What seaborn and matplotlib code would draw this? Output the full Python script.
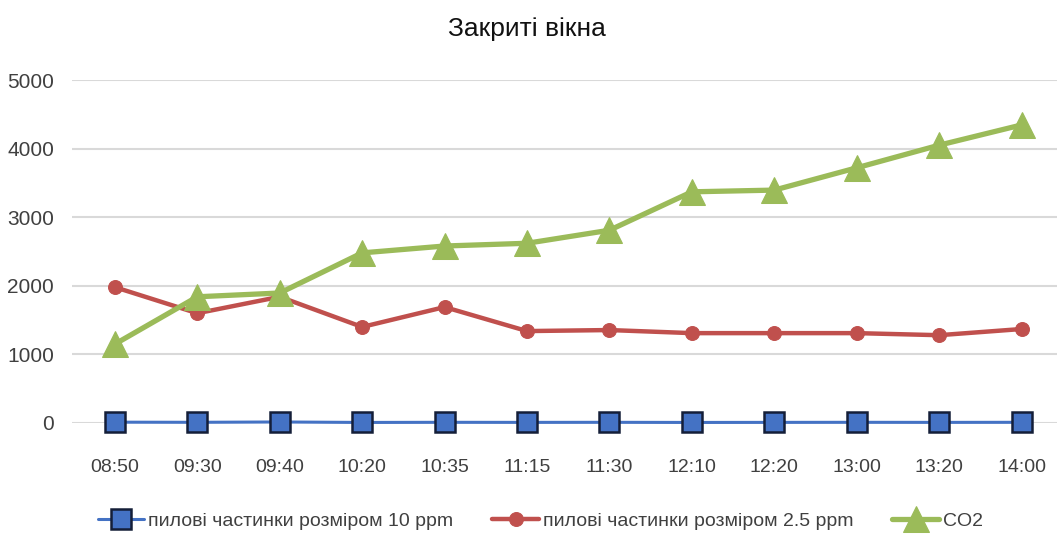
import matplotlib
matplotlib.use("Agg")
import matplotlib.pyplot as plt
import seaborn as sns
import pandas as pd

# Measurement times and readings
times = ["08:50", "09:30", "09:40", "10:20", "10:35", "11:15",
         "11:30", "12:10", "12:20", "13:00", "13:20", "14:00"]
pm10 = [12, 10, 15, 8, 10, 9, 10, 8, 9, 10, 9, 10]
pm25 = [1980, 1600, 1840, 1400, 1690, 1340, 1355, 1310, 1310, 1310, 1280, 1370]
co2 = [1150, 1840, 1895, 2480, 2580, 2620, 2810, 3370, 3395, 3720, 4050, 4345]

labels = ["пилові частинки розміром 10 ppm",
          "пилові частинки розміром 2.5 ppm",
          "CO2"]
title = "Закриті вікна"

sns.set_theme(style="white")
plt.rcParams["font.family"] = ["Liberation Sans", "DejaVu Sans"]

df = pd.DataFrame({"time": times, "pm10": pm10, "pm25": pm25, "co2": co2})
df["pos"] = range(len(times))

fig = plt.figure(figsize=(10.57, 5.34), dpi=100)
ax = fig.add_axes([72 / 1057, 1 - 423 / 534, 1 - 72 / 1057, (423 - 80) / 534])

sns.lineplot(data=df, x="pos", y="pm10", ax=ax, color="#4472C4", lw=2.2,
             marker="s", markersize=15, markerfacecolor="#4472C4",
             markeredgecolor="#141E38", markeredgewidth=1.8,
             label=labels[0], clip_on=False, zorder=4)
sns.lineplot(data=df, x="pos", y="pm25", ax=ax, color="#C0504D", lw=3.2,
             marker="o", markersize=10, markerfacecolor="#C0504D",
             markeredgecolor="#C0504D", label=labels[1], zorder=3)
sns.lineplot(data=df, x="pos", y="co2", ax=ax, color="#9BBB59", lw=3.8,
             marker="^", markersize=19, markerfacecolor="#9BBB59",
             markeredgecolor="#9BBB59", label=labels[2], zorder=3)

ax.set_xlim(-0.52, 11.43)
ax.set_ylim(0, 5000)
ax.set_yticks([0, 1000, 2000, 3000, 4000, 5000])
ax.set_xticks(df["pos"])
ax.set_xticklabels(times)
ax.yaxis.grid(True, color="#D9D9D9", lw=1.5)
ax.set_axisbelow(True)
for s in ax.spines.values():
    s.set_visible(False)
ax.tick_params(axis="both", length=0, colors="#404040")
ax.tick_params(axis="x", labelsize=14, pad=26)
ax.tick_params(axis="y", labelsize=15, pad=13)
ax.set_xlabel("")
ax.set_ylabel("")

fig.text(527 / 1057, 1 - 29 / 534, title, ha="center", va="center",
         fontsize=19, color="#111111")

ax.legend(loc="center", bbox_to_anchor=(0.5 - 26 / 1057, -0.285), ncol=3,
          frameon=False, fontsize=14, handlelength=2.4, columnspacing=2.0,
          handletextpad=0.2, labelcolor="#404040")

fig.savefig("out.png", dpi=100, facecolor="white")
